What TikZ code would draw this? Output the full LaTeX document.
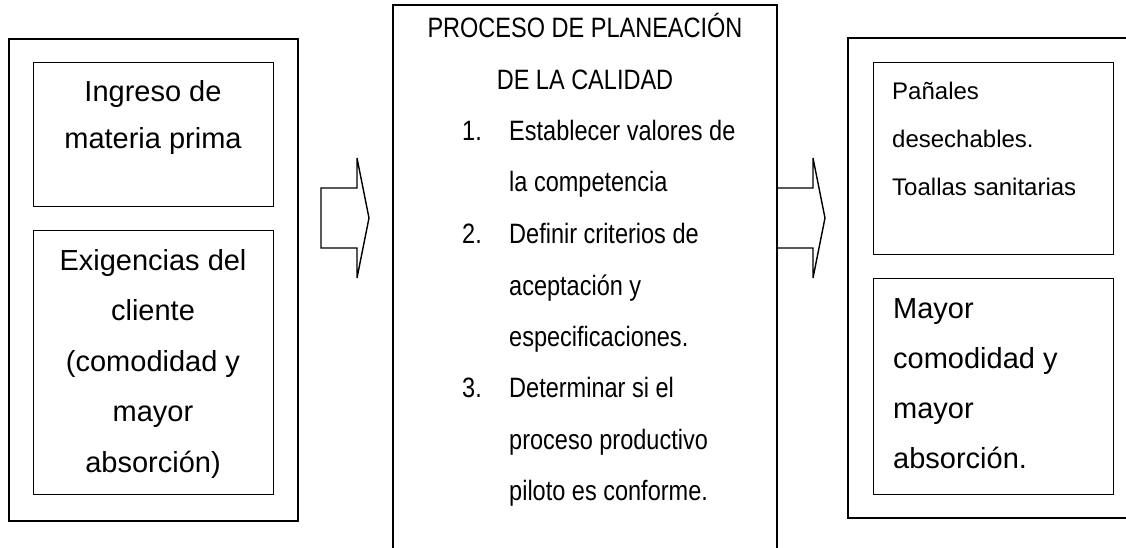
\documentclass[tikz,border=0pt]{standalone}
\usepackage{fontspec}
\setmainfont{Liberation Sans}
\newfontfamily\narrowfont[FakeStretch=0.84]{Liberation Sans}
\tikzset{
  outerline/.style={draw=black, line width=1.7pt},
  innerbox/.style={draw=black, line width=1.4pt, rectangle, inner sep=0pt, anchor=north west},
  blockarrow/.style={draw=black, line width=1.4pt, line join=miter},
  bigtxt/.style={font=\fontsize{29}{35}\selectfont, inner sep=0pt, anchor=base},
  bigtxtl/.style={font=\fontsize{29}{35}\selectfont, inner sep=0pt, anchor=base west},
  midtxt/.style={font=\fontsize{24}{30}\selectfont, inner sep=0pt, anchor=base west},
  centxt/.style={font=\narrowfont\fontsize{28}{34}\selectfont, inner sep=0pt, anchor=base},
  centxtl/.style={font=\narrowfont\fontsize{28}{34}\selectfont, inner sep=0pt, anchor=base west},
}
\begin{document}
\begin{tikzpicture}[x=1pt,y=-1pt]
\useasboundingbox (0,0) rectangle (1126,548);
\clip (0,0) rectangle (1126,548);
% left outer box
\node[innerbox, line width=1.7pt, minimum width=289pt, minimum height=482pt] (leftouter) at (8,38) {};
\node[innerbox, minimum width=240pt, minimum height=144pt] (leftA) at (33,62) {};
\node[innerbox, minimum width=240pt, minimum height=264pt] (leftB) at (33,230) {};
% texts left
\node[bigtxt] (la1) at (153,102) {Ingreso de};
\node[bigtxt] (la2) at (153,149) {materia prima};
\node[bigtxt] (lb1) at (153,270) {Exigencias del};
\node[bigtxt] (lb2) at (153,320.5) {cliente};
\node[bigtxt] (lb3) at (153,371) {(comodidad y};
\node[bigtxt] (lb4) at (153,421.5) {mayor};
\node[bigtxt] (lb5) at (153,472) {absorción)};
% centre box (open at bottom)
\coordinate (cbl) at (393,560);
\coordinate (ctl) at (393,5);
\coordinate (ctr) at (777,5);
\coordinate (cbr) at (777,560);
\draw[outerline] (cbl) -- (ctl) -- (ctr) -- (cbr);
\node[centxt] (c0) at (585,38) {PROCESO DE PLANEACIÓN};
\node[centxt] (c1) at (585,89.5) {DE LA CALIDAD};
\node[centxtl] (n1) at (462,140.5) {1.};
\node[centxtl] (c2) at (509,140.5) {Establecer valores de};
\node[centxtl] (c3) at (509,191.5) {la competencia};
\node[centxtl] (n2) at (462,243) {2.};
\node[centxtl] (c4) at (509,243) {Definir criterios de};
\node[centxtl] (c5) at (509,295) {aceptación y};
\node[centxtl] (c6) at (509,346) {especificaciones.};
\node[centxtl] (n3) at (462,397.5) {3.};
\node[centxtl] (c7) at (509,397.5) {Determinar si el};
\node[centxtl] (c8) at (509,449) {proceso productivo};
\node[centxtl] (c9) at (509,500) {piloto es conforme.};
% right outer box (open at right)
\coordinate (rtr) at (1140,38);
\coordinate (rtl) at (848,38);
\coordinate (rbl) at (848,518);
\coordinate (rbr) at (1140,518);
\draw[outerline] (rtr) -- (rtl) -- (rbl) -- (rbr);
\node[innerbox, minimum width=240pt, minimum height=192pt] (rightA) at (873,62) {};
\node[innerbox, minimum width=240pt, minimum height=216pt] (rightB) at (873,278) {};
\node[midtxt] (ra1) at (892,100) {Pañales};
\node[midtxt] (ra2) at (892,148) {desechables.};
\node[midtxt] (ra3) at (892,196) {Toallas sanitarias};
\node[bigtxtl] (rb1) at (893,318) {Mayor};
\node[bigtxtl] (rb2) at (893,368) {comodidad y};
\node[bigtxtl] (rb3) at (893,418) {mayor};
\node[bigtxtl] (rb4) at (893,468) {absorción.};
% block arrows
\draw[blockarrow] (321,188) -- (357,188) -- (357,158) -- (369,218) -- (357,278) -- (357,248) -- (321,248) -- cycle;
\draw[blockarrow] (777,188) -- (813,188) -- (813,158) -- (825,218) -- (813,278) -- (813,248) -- (777,248);
\end{tikzpicture}
\end{document}
